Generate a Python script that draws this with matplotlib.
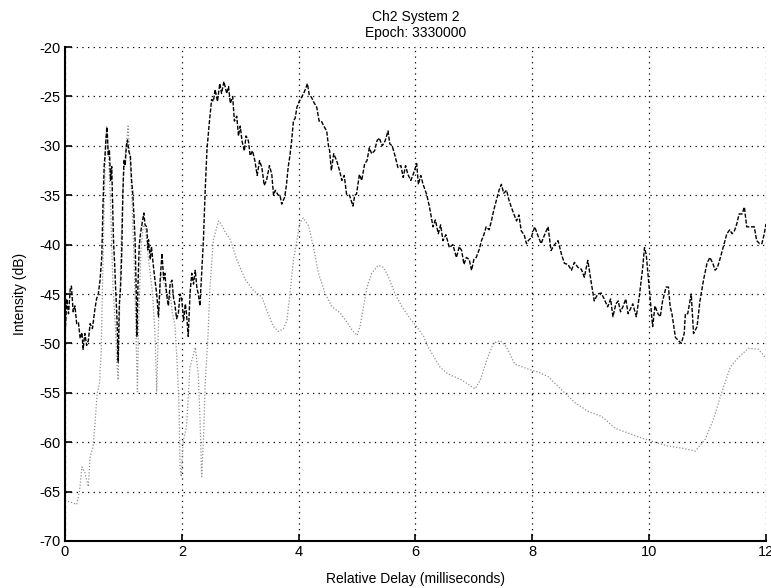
import matplotlib
matplotlib.use("Agg")
import matplotlib.pyplot as plt

plt.rcParams['font.family'] = ['Liberation Sans', 'DejaVu Sans']
plt.rcParams['axes.unicode_minus'] = False

# black dashed trace (noisy)
delay_dark = [
    0.00, 0.03, 0.06, 0.09, 0.11, 0.14, 0.17, 0.20, 0.23, 0.26, 0.29, 0.31, 0.34, 0.37, 0.40, 0.43,
    0.47, 0.51, 0.54, 0.57, 0.60, 0.63, 0.65, 0.67, 0.69, 0.70, 0.72, 0.74, 0.76, 0.78, 0.80, 0.83,
    0.85, 0.87, 0.89, 0.91, 0.93, 0.95, 0.97, 0.99, 1.01, 1.03, 1.05, 1.07, 1.09, 1.12, 1.14, 1.16,
    1.18, 1.20, 1.22, 1.23, 1.25, 1.27, 1.29, 1.31, 1.33, 1.35, 1.37, 1.40, 1.42, 1.43, 1.46, 1.48,
    1.51, 1.54, 1.57, 1.60, 1.63, 1.66, 1.69, 1.71, 1.74, 1.77, 1.80, 1.83, 1.86, 1.88, 1.91, 1.94,
    1.97, 2.00, 2.03, 2.06, 2.08, 2.11, 2.14, 2.17, 2.20, 2.23, 2.26, 2.28, 2.31, 2.34, 2.37, 2.40,
    2.43, 2.47, 2.51, 2.54, 2.57, 2.61, 2.65, 2.68, 2.72, 2.77, 2.80, 2.83, 2.87, 2.90, 2.94, 2.97,
    3.00, 3.03, 3.07, 3.10, 3.14, 3.17, 3.21, 3.25, 3.29, 3.33, 3.37, 3.41, 3.45, 3.50, 3.54, 3.57,
    3.60, 3.65, 3.68, 3.71, 3.76, 3.79, 3.82, 3.85, 3.88, 3.91, 3.94, 3.97, 4.01, 4.05, 4.10, 4.15,
    4.18, 4.22, 4.26, 4.31, 4.35, 4.39, 4.43, 4.48, 4.51, 4.53, 4.56, 4.60, 4.65, 4.70, 4.74, 4.78,
    4.82, 4.87, 4.93, 4.96, 4.99, 5.04, 5.08, 5.13, 5.17, 5.21, 5.25, 5.30, 5.34, 5.38, 5.43, 5.48,
    5.53, 5.56, 5.60, 5.64, 5.70, 5.75, 5.79, 5.83, 5.87, 5.92, 5.96, 6.02, 6.05, 6.09, 6.13, 6.19,
    6.24, 6.30, 6.34, 6.39, 6.43, 6.47, 6.52, 6.58, 6.64, 6.70, 6.75, 6.79, 6.83, 6.87, 6.92, 6.96,
    7.00, 7.04, 7.09, 7.13, 7.17, 7.21, 7.26, 7.30, 7.34, 7.38, 7.43, 7.47, 7.51, 7.56, 7.60, 7.64,
    7.69, 7.73, 7.77, 7.81, 7.86, 7.90, 7.93, 7.98, 8.04, 8.09, 8.15, 8.21, 8.27, 8.32, 8.38, 8.44,
    8.50, 8.55, 8.61, 8.67, 8.72, 8.78, 8.84, 8.89, 8.95, 9.01, 9.06, 9.12, 9.18, 9.23, 9.29, 9.34,
    9.38, 9.43, 9.47, 9.51, 9.55, 9.60, 9.64, 9.68, 9.72, 9.78, 9.83, 9.89, 9.92, 9.95, 9.98, 10.03,
    10.06, 10.10, 10.15, 10.19, 10.23, 10.29, 10.33, 10.36, 10.39, 10.45, 10.50, 10.55, 10.60, 10.62,
    10.66, 10.70, 10.72, 10.76, 10.82, 10.87, 10.93, 10.99, 11.04, 11.09, 11.13, 11.17, 11.22, 11.27,
    11.33, 11.38, 11.42, 11.46, 11.50, 11.54, 11.59, 11.63, 11.67, 11.72, 11.76, 11.80, 11.84, 11.89,
    11.93, 11.97, 12.00,
]
level_dark = [
    -49.5, -45.5, -47.0, -44.5, -44.2, -46.8, -46.2, -48.0, -47.9, -49.5, -48.9, -50.6, -49.0, -50.2, -49.7, -48.0,
    -48.5, -46.6, -45.5, -45.0, -43.6, -41.2, -36.1, -32.1, -30.5, -29.4, -28.1, -31.0, -30.4, -33.5, -32.1, -39.5,
    -42.0, -44.9, -47.5, -51.9, -46.0, -44.5, -41.2, -35.0, -31.4, -32.0, -30.0, -29.4, -30.5, -31.1, -33.5, -34.8,
    -37.0, -39.5, -45.0, -49.3, -44.0, -40.2, -39.0, -38.2, -37.5, -36.8, -38.0, -38.2, -40.5, -39.5, -41.5, -40.2,
    -42.0, -43.6, -45.0, -47.3, -43.5, -40.9, -43.5, -42.9, -45.0, -46.2, -44.0, -43.6, -45.5, -46.0, -47.5, -47.0,
    -45.0, -45.6, -47.7, -46.0, -47.0, -49.3, -45.0, -42.9, -44.0, -42.6, -44.5, -44.9, -46.2, -42.9, -39.5, -34.5,
    -30.4, -27.7, -25.3, -25.5, -24.3, -25.5, -23.7, -24.7, -23.5, -24.7, -24.0, -25.7, -25.0, -27.5, -27.0, -29.0,
    -28.0, -29.5, -30.5, -29.0, -29.5, -31.0, -30.5, -31.5, -33.0, -31.5, -32.2, -34.0, -33.5, -32.0, -32.9, -35.0,
    -34.5, -35.0, -35.0, -35.9, -35.2, -34.0, -32.2, -31.0, -29.5, -27.5, -27.2, -26.1, -25.5, -25.1, -24.5, -23.7,
    -24.8, -25.1, -25.6, -26.1, -27.5, -27.5, -28.0, -28.5, -30.0, -30.5, -32.5, -30.8, -31.5, -32.5, -33.5, -33.0,
    -34.9, -35.0, -36.1, -35.0, -34.9, -32.9, -33.5, -31.8, -31.5, -30.2, -30.8, -30.5, -29.5, -29.2, -30.0, -29.5,
    -28.5, -29.8, -30.0, -30.8, -32.2, -32.0, -33.2, -32.0, -32.9, -33.5, -32.9, -31.8, -33.9, -33.0, -33.9, -34.9,
    -36.2, -38.2, -37.5, -38.9, -38.0, -39.6, -39.0, -40.3, -40.0, -41.3, -40.2, -40.6, -42.0, -41.3, -41.5, -42.6,
    -41.5, -41.3, -40.5, -39.6, -39.0, -38.2, -38.5, -37.6, -36.5, -35.6, -34.5, -33.9, -34.8, -34.5, -35.5, -36.2,
    -37.0, -37.6, -37.0, -38.6, -39.0, -39.9, -39.6, -39.3, -38.2, -39.0, -39.9, -39.0, -38.2, -40.6, -40.0, -39.6,
    -41.0, -41.9, -42.0, -42.6, -41.8, -42.3, -42.5, -43.3, -41.6, -43.9, -45.7, -45.0, -44.9, -45.5, -46.3, -45.5,
    -47.3, -46.0, -45.7, -46.8, -46.3, -45.5, -47.0, -46.5, -46.0, -47.3, -45.3, -42.3, -40.3, -41.0, -43.0, -46.3,
    -48.3, -46.2, -47.0, -47.3, -45.7, -44.3, -44.3, -46.3, -47.0, -49.4, -49.7, -50.0, -49.0, -47.0,
    -47.0, -45.7, -45.0, -49.0, -48.3, -45.7, -43.6, -41.9, -41.3, -41.9, -42.6, -42.3, -41.3, -40.2,
    -38.9, -38.5, -38.9, -38.6, -37.9, -36.9, -36.9, -36.2, -38.2, -38.2, -38.2, -38.2, -39.6, -39.9,
    -39.9, -38.9, -37.9,
]

# grey dotted trace (smooth after ~2.5 ms)
delay_grey = [
    0.00, 0.11, 0.20, 0.25, 0.29, 0.34, 0.40, 0.43, 0.48, 0.51, 0.55, 0.59, 0.62, 0.65, 0.68, 0.71,
    0.74, 0.78, 0.82, 0.86, 0.89, 0.91, 0.93, 0.96, 1.00, 1.04, 1.08, 1.11, 1.15, 1.19, 1.22, 1.24,
    1.26, 1.30, 1.34, 1.38, 1.42, 1.46, 1.50, 1.54, 1.57, 1.60, 1.64, 1.68, 1.72, 1.76, 1.80, 1.84,
    1.88, 1.92, 1.95, 1.97, 1.99, 2.02, 2.08, 2.14, 2.23, 2.28, 2.31, 2.34, 2.37, 2.40, 2.45, 2.48,
    2.54, 2.63, 2.68, 2.75, 2.83, 2.94, 3.08, 3.22, 3.37, 3.45, 3.57, 3.65, 3.74, 3.80, 3.85, 3.91,
    3.97, 4.02, 4.08, 4.17, 4.25, 4.34, 4.45, 4.57, 4.71, 4.82, 4.91, 5.00, 5.05, 5.11, 5.17, 5.25,
    5.36, 5.45, 5.54, 5.65, 5.77, 5.91, 6.02, 6.14, 6.22, 6.42, 6.56, 6.79, 7.02, 7.11, 7.22, 7.33,
    7.45, 7.56, 7.70, 7.93, 8.10, 8.28, 8.50, 8.73, 8.96, 9.19, 9.42, 9.65, 9.88, 10.10, 10.33, 10.56,
    10.79, 10.96, 11.10, 11.24, 11.39, 11.53, 11.70, 11.87, 12.00,
]
level_grey = [
    -65.9, -66.1, -66.3, -64.9, -62.5, -63.1, -64.5, -61.5, -60.5, -58.4, -55.1, -54.1, -50.7, -42.0, -33.0, -28.0,
    -30.0, -36.0, -44.0, -48.0, -52.0, -53.7, -48.0, -40.0, -33.0, -30.5, -28.0, -31.0, -36.0, -43.0, -50.0, -54.9,
    -48.0, -40.5, -38.0, -38.5, -41.0, -43.0, -45.0, -49.0, -54.9, -48.0, -43.0, -43.5, -44.5, -46.0, -45.0, -47.0,
    -48.0, -52.0, -56.0, -62.5, -63.5, -60.0, -58.4, -52.4, -50.4, -53.0, -57.4, -63.5, -59.8, -54.1, -49.0, -44.5,
    -39.5, -37.6, -38.0, -38.8, -39.5, -41.5, -43.5, -44.6, -45.3, -46.6, -48.3, -48.8, -48.5, -47.7, -45.0, -41.6,
    -39.5, -37.8, -37.3, -38.1, -40.2, -42.9, -44.9, -46.3, -46.9, -47.8, -48.6, -49.2, -48.3, -46.3, -44.3, -42.9,
    -42.1, -42.3, -43.3, -45.0, -46.3, -47.5, -48.3, -49.3, -50.4, -52.4, -53.1, -53.7, -54.6, -53.7, -51.7, -50.0,
    -49.7, -50.4, -52.1, -52.6, -52.9, -53.4, -54.7, -56.0, -56.9, -57.4, -58.6, -59.1, -59.6, -60.0, -60.4, -60.6,
    -60.9, -59.7, -57.7, -55.0, -52.4, -51.4, -50.5, -50.6, -51.5,
]

x_ticks = [0, 2, 4, 6, 8, 10, 12]
y_ticks = [-70, -65, -60, -55, -50, -45, -40, -35, -30, -25, -20]

fig = plt.figure(figsize=(7.71, 5.88), dpi=100, facecolor='w')
ax = fig.add_axes([0.0843, 0.080, 0.9092, 0.840])

ax.plot(delay_grey, level_grey, linestyle=(0, (1, 1.5)), color='#909090', lw=0.9)
ax.plot(delay_dark, level_dark, linestyle=(0, (3, 1.2)), color='k', lw=1.0)

ax.set_xlim(0, 12)
ax.set_ylim(-70, -20)
ax.set_xticks(x_ticks)
ax.set_yticks(y_ticks)
ax.grid(True, linestyle=(0, (1, 3.5)), color='k', lw=0.9)
ax.tick_params(direction='in', length=5, width=1.2, labelsize=10.5, pad=3)
ax.spines['top'].set_visible(False)
ax.spines['right'].set_visible(False)
ax.spines['left'].set_linewidth(1.5)
ax.spines['bottom'].set_linewidth(1.5)

ax.set_title('Ch2 System 2\nEpoch: 3330000', fontsize=10, pad=7, linespacing=1.25)
ax.set_xlabel('Relative Delay (milliseconds)', fontsize=10, labelpad=9)
ax.set_ylabel('Intensity (dB)', fontsize=10, labelpad=9)

fig.savefig('out.png', dpi=100)
